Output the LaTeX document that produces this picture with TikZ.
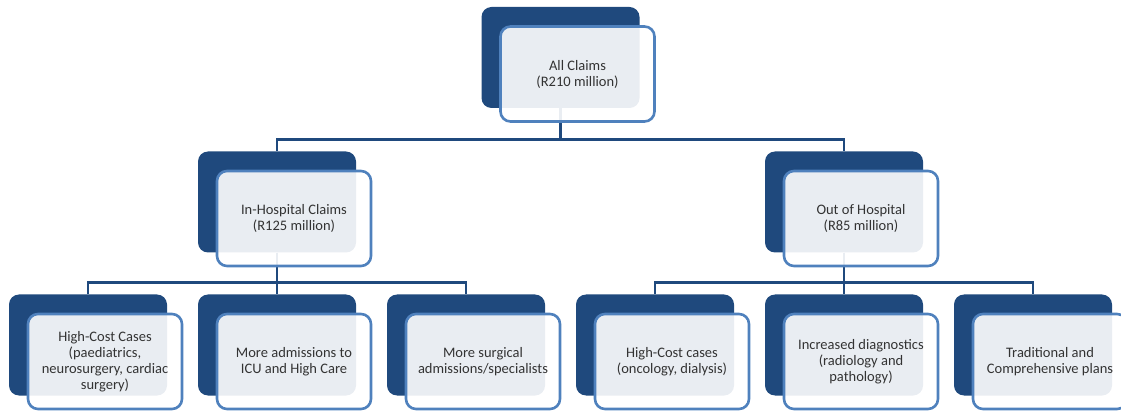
\documentclass[tikz,border=0pt]{standalone}
\usepackage{fontspec}
\setmainfont{Carlito}
\usepackage{tikz}

\definecolor{darkbox}{RGB}{31,73,125}
\definecolor{frameblue}{RGB}{79,129,189}
\definecolor{textgray}{RGB}{51,51,51}

\begin{document}
\begin{tikzpicture}[x=1pt,y=-1pt]
		\tikzset{back/.style = {shape=rectangle,rounded corners=10pt,fill=darkbox,minimum width=158pt,minimum height=101pt,inner sep=0pt}}
		\tikzset{front/.style = {shape=rectangle,rounded corners=10pt,draw=frameblue,line width=2.6pt,fill=white,fill opacity=0.9,text opacity=1,text=textgray,minimum width=154pt,minimum height=95pt,inner sep=0pt,align=center,font=\fontsize{14.5}{16}\selectfont}}
		\tikzset{link/.style = {draw=darkbox,line width=2.8pt}}
		\useasboundingbox (0,0) rectangle (1121,411);
		% back boxes
		\node[back] (topbk) at (560.5, 57.5) {};
		\node[back] (inhbk) at (277, 202) {};
		\node[back] (outbk) at (844, 202) {};
		\node[back] (hcabk) at (88, 345) {};
		\node[back] (icubk) at (277, 345) {};
		\node[back] (surbk) at (466, 345) {};
		\node[back] (hcbbk) at (655, 345) {};
		\node[back] (diabk) at (844, 345) {};
		\node[back] (plabk) at (1033, 345) {};
		% connectors
		\draw[link] (topbk.south) -- ++(0,31) -| (inhbk.north);
		\draw[link] (topbk.south) -- ++(0,31) -| (outbk.north);
		\draw[link] (inhbk.south) -- ++(0,30) -| (hcabk.north);
		\draw[link] (inhbk.south) -- ++(0,30) -| (icubk.north);
		\draw[link] (inhbk.south) -- ++(0,30) -| (surbk.north);
		\draw[link] (outbk.south) -- ++(0,30) -| (hcbbk.north);
		\draw[link] (outbk.south) -- ++(0,30) -| (diabk.north);
		\draw[link] (outbk.south) -- ++(0,30) -| (plabk.north);
		% front boxes
		\node[front] (top) at ([shift={(17,16.5)}]topbk) {All Claims\\(R210 million)};
		\node[front] (inh) at ([shift={(17,16.5)}]inhbk) {In-Hospital Claims\\(R125 million)};
		\node[front] (out) at ([shift={(17,16.5)}]outbk) {Out of Hospital\\(R85 million)};
		\node[front] (hca) at ([shift={(17,16.5)}]hcabk) {High-Cost Cases\\(paediatrics,\\neurosurgery, cardiac\\surgery)};
		\node[front] (icu) at ([shift={(17,16.5)}]icubk) {More admissions to\\ICU and High Care};
		\node[front] (sur) at ([shift={(17,16.5)}]surbk) {More surgical\\admissions/specialists};
		\node[front] (hcb) at ([shift={(17,16.5)}]hcbbk) {High-Cost cases\\(oncology, dialysis)};
		\node[front] (dia) at ([shift={(17,16.5)}]diabk) {Increased diagnostics\\(radiology and\\pathology)};
		\node[front] (pla) at ([shift={(17,16.5)}]plabk) {Traditional and\\Comprehensive plans};
\end{tikzpicture}
\end{document}
